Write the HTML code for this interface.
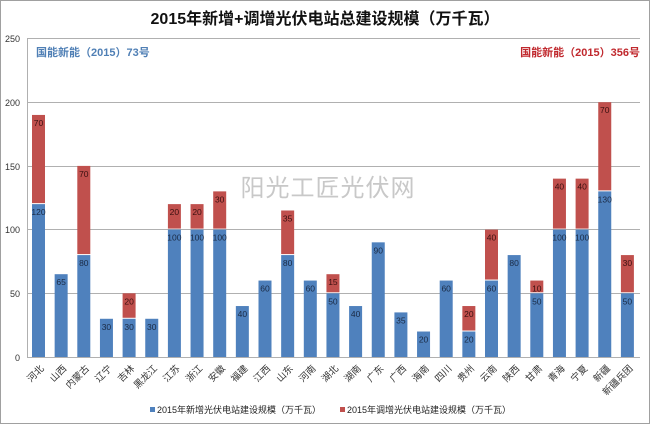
<!DOCTYPE html>
<html><head><meta charset="utf-8"><style>
html,body{margin:0;padding:0;background:#fff}
svg{display:block}
text{font-family:"Liberation Sans","Noto Sans CJK SC",sans-serif}
</style></head><body>
<svg width="650" height="424" viewBox="0 0 650 424" xmlns="http://www.w3.org/2000/svg">
<rect x="0.5" y="0.5" width="649" height="423" fill="#fff" stroke="#a0a0a0"/>
<text x="325" y="24" text-anchor="middle" font-size="16" font-weight="bold" fill="#111">2015年新增+调增光伏电站总建设规模（万千瓦）</text>
<g stroke="#b0b0b0" stroke-width="1">
<line x1="27" y1="38.5" x2="640" y2="38.5"/>
<line x1="27" y1="102.5" x2="640" y2="102.5"/>
<line x1="27" y1="166.5" x2="640" y2="166.5"/>
<line x1="27" y1="229.5" x2="640" y2="229.5"/>
<line x1="27" y1="293.5" x2="640" y2="293.5"/>
<line x1="27" y1="357.5" x2="640" y2="357.5"/>
<line x1="27.5" y1="38" x2="27.5" y2="357"/>
</g>
<g font-size="9" fill="#333" text-anchor="end">
<text x="20" y="42">250</text><text x="20" y="106">200</text><text x="20" y="170">150</text>
<text x="20" y="233">100</text><text x="20" y="297">50</text><text x="20" y="361">0</text>
</g>
<text x="36" y="56" font-size="11" font-weight="bold" fill="#4f7fb5">国能新能（2015）73号</text>
<text x="640" y="56" font-size="11" font-weight="bold" fill="#c0282d" text-anchor="end">国能新能（2015）356号</text>
<text x="328" y="196" font-size="24" fill="#c8c8c8" text-anchor="middle" letter-spacing="1">阳光工匠光伏网</text>
<g id="bars"></g>
<rect x="150" y="407" width="5" height="5" fill="#4f81bd"/>
<text x="157" y="413" font-size="9" fill="#222">2015年新增光伏电站建设规模（万千瓦）</text>
<rect x="340" y="407" width="5" height="5" fill="#c0504d"/>
<text x="347" y="413" font-size="9" fill="#222">2015年调增光伏电站建设规模（万千瓦）</text>
</svg>
<script>
var names=["河北","山西","内蒙古","辽宁","吉林","黑龙江","江苏","浙江","安徽","福建","江西","山东","河南","湖北","湖南","广东","广西","海南","四川","贵州","云南","陕西","甘肃","青海","宁夏","新疆","新疆兵团"];
var b=[120,65,80,30,30,30,100,100,100,40,60,80,60,50,40,90,35,20,60,20,60,80,50,100,100,130,50];
var r=[70,0,70,0,20,0,20,20,30,0,0,35,0,15,0,0,0,0,0,20,40,0,10,40,40,70,30];
var g=document.getElementById('bars'),s="";
var y0=357,k=1.274;
for(var i=0;i<27;i++){
 var cx=38.5+i*22.65,x=cx-6.5;
 var hb=b[i]*k,yb=y0-hb;
 s+='<rect x="'+x+'" y="'+yb+'" width="13" height="'+hb+'" fill="#4f81bd"/>';
 s+='<text x="'+cx+'" y="'+(yb+11)+'" font-size="8.5" fill="#1a2a44" text-anchor="middle">'+b[i]+'</text>';
 if(r[i]){var hr=r[i]*k,yr=yb-hr;
  s+='<rect x="'+x+'" y="'+yr+'" width="13" height="'+(hr-1)+'" fill="#c0504d"/>';
  s+='<text x="'+cx+'" y="'+(yr+11)+'" font-size="8.5" fill="#3a1010" text-anchor="middle">'+r[i]+'</text>';}
 s+='<text transform="translate('+(cx+6)+',369) rotate(-45)" font-size="9.5" fill="#333" text-anchor="end">'+names[i]+'</text>';
}
g.innerHTML=s;
</script>
</body></html>
